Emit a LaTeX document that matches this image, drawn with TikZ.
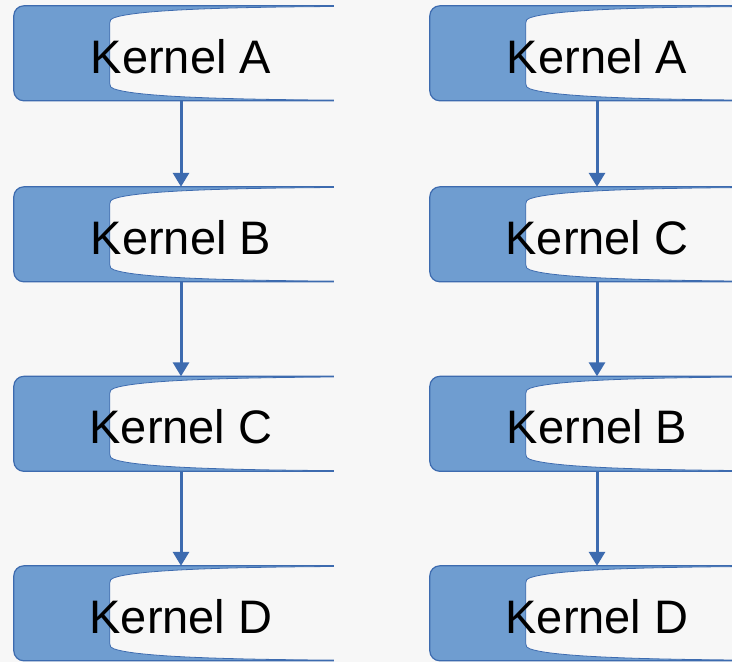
\documentclass[tikz,border=0pt]{standalone}
\usepackage{fontspec}
\setmainfont{Liberation Sans}
\usetikzlibrary{arrows.meta,backgrounds}
\definecolor{pagebg}{HTML}{F7F7F7}
\definecolor{kfill}{HTML}{6F9DD0}
\definecolor{kline}{HTML}{3D6BAF}
\tikzset{
  kernel/.style={minimum width=334pt, minimum height=95pt, inner sep=0pt,
    text height=39pt, text depth=0pt, font=\fontsize{47}{50}\selectfont},
  flow/.style={draw=kline, line width=3pt, -{Triangle[width=16pt,length=14pt]}},
  tabedge/.style={draw=kline, line width=1.2pt},
  slot/.style={fill=pagebg, draw=kline, line width=0.8pt},
}
% tab-shaped background behind a kernel node: blue rounded tab with a light slot
\newcommand\kernelshape[1]{%
  \begin{scope}[shift={(#1.north west)}]
    \fill[kfill] (320,0) -- (10,0) .. controls (4.5,0) and (0,4.5) .. (0,10)
      -- (0,85) .. controls (0,90.5) and (4.5,95) .. (10,95) -- (320,95) -- cycle;
    \path[slot] (320,0.7) .. controls (190,1.5) and (120,5) .. (100,12)
      .. controls (97,13) and (96,14.5) .. (96,17) -- (96,78)
      .. controls (96,80.5) and (97,82) .. (100,83)
      .. controls (120,90) and (190,93.5) .. (320,94.3);
    \draw[tabedge] (320,0) -- (10,0) .. controls (4.5,0) and (0,4.5) .. (0,10)
      -- (0,85) .. controls (0,90.5) and (4.5,95) .. (10,95) -- (320,95);
  \end{scope}}
\begin{document}
\begin{tikzpicture}[x=1pt,y=-1pt]
  \useasboundingbox (0,0) rectangle (732,662);

  % left sequence
  \node[kernel] (L1) at (181,53.5) {Kernel A};
  \node[kernel] (L2) at (181,234.5) {Kernel B};
  \node[kernel] (L3) at (181,424) {Kernel C};
  \node[kernel] (L4) at (181,613.5) {Kernel D};
  % right sequence
  \node[kernel] (R1) at (597,53.5) {Kernel A};
  \node[kernel] (R2) at (597,234.5) {Kernel C};
  \node[kernel] (R3) at (597,424) {Kernel B};
  \node[kernel] (R4) at (597,613.5) {Kernel D};

  \begin{pgfonlayer}{background}
    \clip (0,0) rectangle (732,662);
    \fill[pagebg] (0,0) rectangle (732,662);
    \foreach \n in {L1,L2,L3,L4,R1,R2,R3,R4} {\kernelshape{\n}}
  \end{pgfonlayer}

  \draw[flow] (L1) -- (L2);
  \draw[flow] (L2) -- (L3);
  \draw[flow] (L3) -- (L4);
  \draw[flow] (R1) -- (R2);
  \draw[flow] (R2) -- (R3);
  \draw[flow] (R3) -- (R4);
\end{tikzpicture}
\end{document}
